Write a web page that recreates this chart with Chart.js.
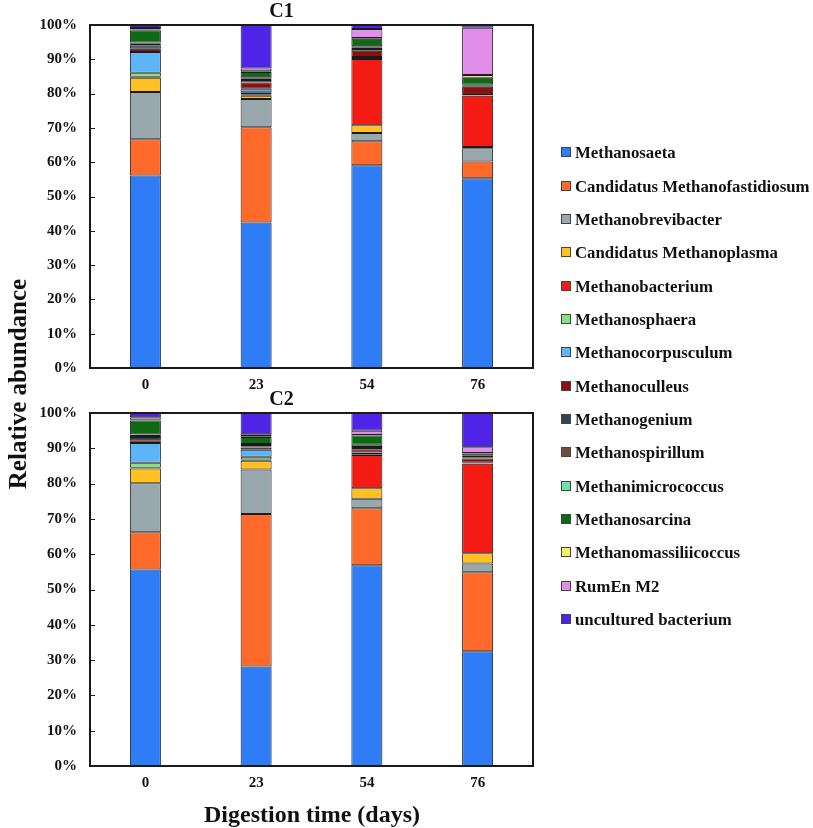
<!DOCTYPE html>
<html>
<head>
<meta charset="utf-8">
<script src="https://cdn.jsdelivr.net/npm/chart.js@4.4.1/dist/chart.umd.min.js"></script>
<style>
  body { margin: 0; background: #fff; font-family: "Liberation Serif", "Times New Roman", serif; }
  #wrap { position: relative; width: 813px; height: 828px; overflow: hidden; }
  canvas { position: absolute; }
  #chart1 { left: 30px; top: 0px; }
  #chart2 { left: 30px; top: 388px; }
  .ytitle { position: absolute; left: -182px; top: 369px; width: 400px; height: 30px; line-height: 30px;
            text-align: center; font-weight: bold; font-size: 25px; color: #111; transform: rotate(-90deg); }
  .xtitle { position: absolute; left: 112px; top: 801px; width: 400px; text-align: center;
            font-weight: bold; font-size: 24px; color: #111; }
  .leg { position: absolute; left: 561px; height: 20px; line-height: 20px; font-weight: bold; font-size: 16.8px; color: #111; white-space: nowrap; }
  .leg span { display: inline-block; width: 8px; height: 8px; border: 1px solid #444; margin-right: 4px; vertical-align: 1px; }
</style>
</head>
<body>
<div id="wrap">
  <canvas id="chart1" width="563" height="394"></canvas>
  <canvas id="chart2" width="563" height="404"></canvas>
  <div class="ytitle">Relative abundance</div>
  <div class="xtitle">Digestion time (days)</div>
  <div id="legend"></div>
</div>
<script>
// digestion days
var days = ['0', '23', '54', '76'];

var taxa = ['Methanosaeta', 'Candidatus Methanofastidiosum', 'Methanobrevibacter', 'Candidatus Methanoplasma',
  'Methanobacterium', 'Methanosphaera', 'Methanocorpusculum', 'Methanoculleus', 'Methanogenium',
  'Methanospirillum', 'Methanimicrococcus', 'Methanosarcina', 'Methanomassiliicoccus', 'RumEn M2',
  'uncultured bacterium'];

var colors = ['#2E7CF6', '#FF6A2A', '#98A8AC', '#FFC021', '#F41B14', '#86E27E', '#5DB5F8', '#8C1010',
  '#2E474D', '#6E4C3C', '#72E0A4', '#0E6A12', '#F2F266', '#E08EEA', '#5024E8'];

// C1 values (%), one array per taxon, days 0/23/54/76
var c1Saeta       = [56.1, 42.4, 59.1, 55.3];
var c1Fastid      = [10.6, 27.8, 7.0, 4.9];
var c1Brevi       = [13.8, 8.2, 2.4, 3.9];
var c1Plasma      = [4.1, 1.0, 2.3, 0.3];
var c1Bacterium   = [0.3, 0.4, 19.3, 15.0];
var c1Sphaera     = [1.2, 0.6, 0.3, 0.1];
var c1Corpusculum = [6.0, 1.0, 0.3, 0.1];
var c1Culleus     = [1.0, 1.8, 1.8, 2.4];
var c1Genium      = [1.0, 0.8, 0.5, 0.3];
var c1Spirillum   = [0.4, 0.3, 0.4, 0.2];
var c1Micrococcus = [0.4, 0.5, 0.4, 0.1];
var c1Sarcina     = [3.6, 1.5, 2.2, 2.0];
var c1Massilii    = [0.2, 0.2, 0.2, 0.8];
var c1RumEn       = [0.4, 0.8, 2.6, 13.8];
var c1Uncultured  = [0.9, 12.7, 1.2, 0.8];

// C2 values (%)
var c2Saeta       = [55.7, 28.2, 56.9, 32.5];
var c2Fastid      = [10.5, 43.2, 16.1, 22.4];
var c2Brevi       = [13.9, 12.6, 2.7, 2.5];
var c2Plasma      = [4.2, 2.5, 3.0, 2.9];
var c2Bacterium   = [0.2, 0.3, 9.4, 25.3];
var c2Sphaera     = [1.4, 0.8, 0.2, 0.1];
var c2Corpusculum = [5.6, 2.0, 0.5, 0.2];
var c2Culleus     = [0.8, 0.6, 0.9, 1.2];
var c2Genium      = [0.9, 0.4, 0.4, 0.4];
var c2Spirillum   = [0.3, 0.3, 0.3, 0.3];
var c2Micrococcus = [0.4, 0.3, 0.6, 0.1];
var c2Sarcina     = [4.0, 2.0, 2.6, 0.6];
var c2Massilii    = [0.2, 0.2, 0.2, 0.2];
var c2RumEn       = [0.7, 0.6, 1.2, 1.6];
var c2Uncultured  = [1.2, 6.0, 5.0, 9.7];

var c1Series = [c1Saeta, c1Fastid, c1Brevi, c1Plasma, c1Bacterium, c1Sphaera, c1Corpusculum, c1Culleus,
  c1Genium, c1Spirillum, c1Micrococcus, c1Sarcina, c1Massilii, c1RumEn, c1Uncultured];
var c2Series = [c2Saeta, c2Fastid, c2Brevi, c2Plasma, c2Bacterium, c2Sphaera, c2Corpusculum, c2Culleus,
  c2Genium, c2Spirillum, c2Micrococcus, c2Sarcina, c2Massilii, c2RumEn, c2Uncultured];

var fontFamily = '"Liberation Serif", "Times New Roman", serif';

// box around the plot + short inward ticks on y axis
var framePlugin = {
  id: 'frame',
  afterDraw: function(chart) {
    var ctx = chart.ctx, a = chart.chartArea, y = chart.scales.y;
    ctx.save();
    ctx.strokeStyle = '#1a1a1a';
    ctx.lineWidth = 1;
    y.ticks.forEach(function(t) {
      var py = Math.round(y.getPixelForValue(t.value)) + 0.5;
      ctx.beginPath();
      ctx.moveTo(a.left, py);
      ctx.lineTo(a.left + 5, py);
      ctx.stroke();
    });
    ctx.lineWidth = 2;
    ctx.strokeRect(a.left, a.top, a.right - a.left, a.bottom - a.top);
    ctx.restore();
  }
};

function makeChart(id, title, series) {
  var datasets = [];
  for (var i in series) {
    datasets.push({
      label: taxa[i],
      data: series[i],
      backgroundColor: colors[i],
      borderColor: '#1b1b1b',
      borderWidth: 1,
      borderSkipped: false,
      barPercentage: 0.28,
      categoryPercentage: 1.0
    });
  }
  return new Chart(document.getElementById(id), {
    type: 'bar',
    data: { labels: days, datasets: datasets },
    plugins: [framePlugin],
    options: {
      responsive: false,
      animation: false,
      layout: { padding: { top: 0, right: 60, left: 0, bottom: 0 } },
      plugins: {
        legend: { display: false },
        tooltip: { enabled: false },
        title: {
          display: true, text: title, color: '#111',
          font: { family: fontFamily, size: 20, weight: 'bold' },
          padding: { top: 0, bottom: 1 }
        }
      },
      scales: {
        x: {
          stacked: true,
          grid: { display: false, drawTicks: false },
          border: { display: false },
          ticks: { color: '#111', padding: 8, font: { family: fontFamily, size: 15, weight: 'bold' } },
          afterFit: function(s) { s.height = 26; }
        },
        y: {
          stacked: true, min: 0, max: 100,
          grid: { display: false, drawTicks: false },
          border: { display: false },
          ticks: {
            stepSize: 10, color: '#111', padding: 13,
            font: { family: fontFamily, size: 15, weight: 'bold' },
            callback: function(v) { return v + '%'; }
          },
          afterFit: function(s) { s.width = 60; }
        }
      }
    }
  });
}

makeChart('chart1', 'C1', c1Series);
makeChart('chart2', 'C2', c2Series);

// legend
var legend = document.getElementById('legend');
for (var i in taxa) {
  var d = document.createElement('div');
  d.className = 'leg';
  d.style.top = (143.3 + i * 33.33) + 'px';
  d.innerHTML = '<span style="background:' + colors[i] + '"></span>' + taxa[i];
  legend.appendChild(d);
}
</script>
</body>
</html>
